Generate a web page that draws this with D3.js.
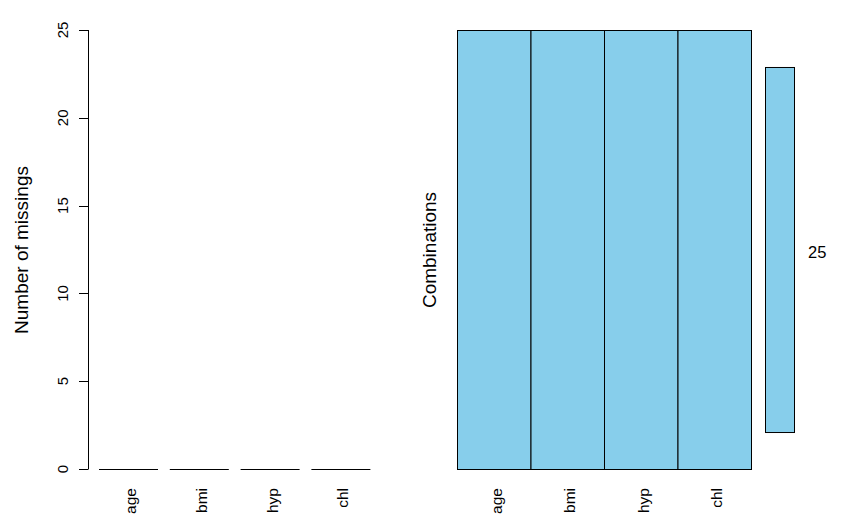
<html>
<head>
<meta charset="utf-8">
<title>Missing data aggregation</title>
<script src="https://cdnjs.cloudflare.com/ajax/libs/d3/7.8.5/d3.min.js"></script>
<style>
  body { margin: 0; background: #fff; }
  text { font-family: "Liberation Sans", Arial, sans-serif; fill: #000; }
</style>
</head>
<body>
<script>
var variables = ["age", "bmi", "hyp", "chl"];
var missings = [0, 0, 0, 0];
var yTicks = [0, 5, 10, 15, 20, 25];
// one combination pattern: 0 = observed for each variable
var combos = [[0, 0, 0, 0]];
var comboCounts = [25];
var comboLabels = ["25"];

var W = 844, H = 527;
var fill = "#87CEEB";

var svg = d3.select("body").append("svg")
    .attr("width", W).attr("height", H);

// ---------- left panel: barplot of missings ----------
var x = d3.scaleLinear().domain([0, 5]).range([87.2, 382.2]);
var y = d3.scaleLinear().domain([0, 25]).range([469, 30]);

var left = svg.append("g");

left.append("line")
    .attr("x1", 88.5).attr("x2", 88.5)
    .attr("y1", y(0)).attr("y2", y(25))
    .attr("stroke", "#000");

left.selectAll("line.tick").data(yTicks).enter()
    .append("line").attr("class", "tick")
    .attr("x1", 79).attr("x2", 88.5)
    .attr("y1", function(d) { return Math.round(y(d)) + 0.5; })
    .attr("y2", function(d) { return Math.round(y(d)) + 0.5; })
    .attr("stroke", "#000");

left.selectAll("text.ytick").data(yTicks).enter()
    .append("text").attr("class", "ytick")
    .attr("transform", function(d) { return "translate(62," + y(d) + ") rotate(-90)"; })
    .attr("text-anchor", "middle")
    .attr("dominant-baseline", "central")
    .style("font-size", "15px")
    .text(function(d) { return d; });

left.selectAll("rect.bar").data(missings).enter()
    .append("rect").attr("class", "bar")
    .attr("x", function(d, i) { return x(0.2 + i * 1.2); })
    .attr("width", function(d, i) { return x(1.2 + i * 1.2) - x(0.2 + i * 1.2); })
    .attr("y", function(d) { return y(d); })
    .attr("height", function(d) { return y(0) - y(d); })
    .attr("fill", fill);

left.selectAll("line.bar0").data(missings).enter()
    .append("line").attr("class", "bar0")
    .attr("x1", function(d, i) { return x(0.2 + i * 1.2); })
    .attr("x2", function(d, i) { return x(1.2 + i * 1.2); })
    .attr("y1", function(d) { return Math.round(y(d)) + 0.5; })
    .attr("y2", function(d) { return Math.round(y(d)) + 0.5; })
    .attr("stroke", "#000");

left.selectAll("text.xlab").data(variables).enter()
    .append("text").attr("class", "xlab")
    .attr("transform", function(d, i) { return "translate(" + (x(0.7 + i * 1.2) + 2) + ",488) rotate(-90)"; })
    .attr("text-anchor", "end")
    .attr("dominant-baseline", "central")
    .style("font-size", "15.5px")
    .text(function(d) { return d; });

left.append("text")
    .attr("transform", "translate(21,250) rotate(-90)")
    .attr("text-anchor", "middle")
    .attr("dominant-baseline", "central")
    .style("font-size", "19px")
    .text("Number of missings");

// ---------- right panel: combinations ----------
var cx = d3.scaleBand().domain(variables).range([457.5, 751.5]);
var cy = d3.scaleBand().domain(d3.range(combos.length)).range([30.5, 469.5]);
var by = d3.scaleBand().domain(d3.range(combos.length)).range([30.5, 469.5]).padding(0.092);
var bx = d3.scaleLinear().domain([0, 25]).range([765.5, 794.5]);

var right = svg.append("g");

combos.forEach(function(row, r) {
    right.selectAll("rect.cell" + r).data(row).enter()
        .append("rect")
        .attr("x", function(d, i) { return cx(variables[i]); })
        .attr("y", cy(r))
        .attr("width", cx.bandwidth())
        .attr("height", cy.bandwidth())
        .attr("fill", function(d) { return d ? "#ff0000" : fill; })
        .attr("stroke", "#000");
});

right.selectAll("rect.prop").data(comboCounts).enter()
    .append("rect").attr("class", "prop")
    .attr("x", bx(0))
    .attr("y", function(d, i) { return by(i); })
    .attr("width", function(d) { return bx(d) - bx(0); })
    .attr("height", by.bandwidth())
    .attr("fill", fill)
    .attr("stroke", "#000");

right.selectAll("text.count").data(comboLabels).enter()
    .append("text").attr("class", "count")
    .attr("x", 808)
    .attr("y", function(d, i) { return by(i) + by.bandwidth() / 2 + 2; })
    .attr("dominant-baseline", "central")
    .style("font-size", "16.5px")
    .text(function(d) { return d; });

right.selectAll("text.xlab").data(variables).enter()
    .append("text").attr("class", "xlab")
    .attr("transform", function(d) { return "translate(" + (cx(d) + cx.bandwidth() / 2 + 2) + ",488) rotate(-90)"; })
    .attr("text-anchor", "end")
    .attr("dominant-baseline", "central")
    .style("font-size", "15.5px")
    .text(function(d) { return d; });

right.append("text")
    .attr("transform", "translate(429,250) rotate(-90)")
    .attr("text-anchor", "middle")
    .attr("dominant-baseline", "central")
    .style("font-size", "19px")
    .text("Combinations");
</script>
</body>
</html>
